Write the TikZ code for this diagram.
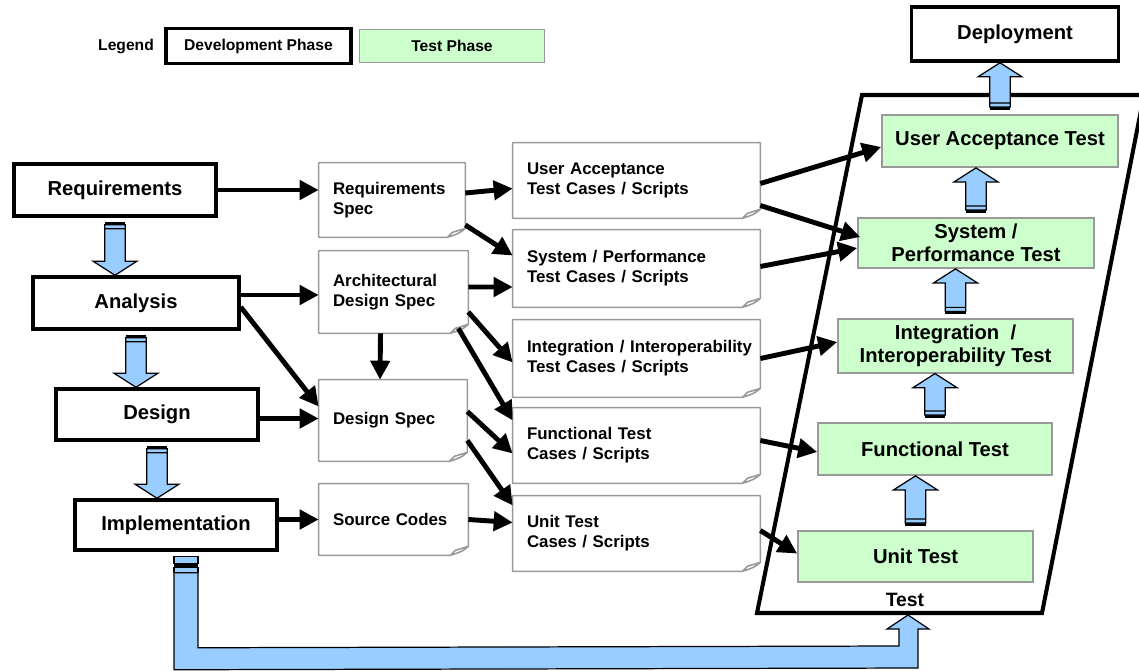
\documentclass[tikz,border=0pt]{standalone}
\usepackage{fontspec}
\setmainfont{Liberation Sans}
\usetikzlibrary{arrows.meta,calc}
\definecolor{testgreen}{HTML}{CCFFCC}
\definecolor{flowblue}{HTML}{99CCFF}
\definecolor{docgray}{HTML}{999999}

\newcommand{\stripearrow}[2]{%
  \fill let \p1=(#1), \p2=(#1 |- #2), \n1={sign(\y2-\y1)} in
    ({\x1-5.8pt},{\y1+\n1*2.3pt}) rectangle ({\x1+5.8pt},{\y1+\n1*4pt});
  \filldraw[fill=flowblue, line width=0.7pt] let \p1=(#1), \p2=(#1 |- #2), \n1={sign(\y2-\y1)} in
    ({\x1-5.8pt},{\y1+\n1*4pt}) rectangle ({\x1+5.8pt},{\y1+\n1*6.3pt})
    ({\x1-5.8pt},{\y1+\n1*6.3pt}) -- ({\x1-5.8pt},{\y2-\n1*8pt}) -- ({\x1-12.5pt},{\y2-\n1*8pt})
    -- (\x1,\y2) -- ({\x1+12.5pt},{\y2-\n1*8pt}) -- ({\x1+5.8pt},{\y2-\n1*8pt})
    -- ({\x1+5.8pt},{\y1+\n1*6.3pt}) -- cycle;}

\begin{document}
\begin{tikzpicture}[x=0.02cm, y=-0.02cm, every node/.style={font=\bfseries},
  devbox/.style={draw, line width=2pt, fill=white, minimum width=4.04cm, minimum height=1.04cm, font=\fontsize{11.5}{13.8}\selectfont\bfseries},
  testbox/.style={draw=docgray, line width=1pt, fill=testgreen, minimum width=4.7cm, minimum height=1.04cm, align=center, font=\fontsize{11.5}{13}\selectfont\bfseries},
  doc/.style={minimum height=1.5cm, inner xsep=0.28cm, align=left, font=\fontsize{9.6}{11.5}\selectfont\bfseries},
  narrowdoc/.style={doc, text width=2.4cm},
  widedoc/.style={doc, text width=4.38cm},
  conn/.style={line width=2.8pt, -{Triangle[length=0.38cm, width=0.38cm]}},
  frame/.style={line width=2.3pt, line join=miter}]
	\useasboundingbox (0,0) rectangle (1139,670);
	\node (leg) at (126,46) {\fontsize{8.9}{10}\selectfont Legend};
	\node[devbox, line width=2.2pt, minimum width=3.7cm, minimum height=0.7cm, font=\fontsize{8.9}{10}\selectfont\bfseries] (legdev) at (258.5,46) {Development Phase};
	\node[testbox, minimum width=3.7cm, minimum height=0.66cm, font=\fontsize{8.9}{10}\selectfont\bfseries] (legtest) at (452,46) {Test Phase};
	\draw[frame] (862,95) -- (1144,95) -- (1042,613) -- (757,613) -- cycle;
	\node[devbox] (req) at (115,190) {Requirements};
	\node[devbox, minimum width=4.12cm] (ana) at (136,303) {Analysis};
	\node[devbox, minimum height=1.02cm] (des) at (157,414.5) {Design};
	\node[devbox, minimum height=1cm] (imp) at (176,525) {Implementation};
	\node[devbox, minimum width=4.14cm, minimum height=1.08cm] (dep) at (1015,34) {Deployment};
	\node[narrowdoc, text width=2.36cm, minimum height=1.48cm] (rs) at (392,200) {Requirements\\Spec};
	\node[narrowdoc, text width=2.42cm, minimum height=1.64cm] (ads) at (393.5,292) {Architectural\\Design Spec};
	\node[narrowdoc, minimum height=1.62cm] (dsp) at (393,420.5) {Design Spec\\[8pt]};
	\node[narrowdoc, text width=2.42cm, minimum height=1.42cm] (scd) at (393.5,519.5) {Source Codes\\[4pt]};
	\node[widedoc] (uatc) at (636.5,180.5) {User Acceptance\\Test Cases / Scripts};
	\node[widedoc, minimum height=1.54cm] (sysc) at (636.5,268.5) {System / Performance\\Test Cases / Scripts};
	\node[widedoc, minimum height=1.54cm] (intc) at (636.5,358.5) {\mbox{Integration / Interoperability}\\Test Cases / Scripts};
	\node[widedoc] (func) at (636.5,445.5) {Functional Test\\Cases / Scripts};
	\node[widedoc] (unitc) at (636.5,533.5) {Unit Test\\Cases / Scripts};
	\foreach \d in {rs,ads,dsp,scd,uatc,sysc,intc,func,unitc} {
		\draw[docgray, line width=0.9pt, line join=round] (\d.north west) -- (\d.north east) -- ($(\d.south east)+(0,-9)$)
			.. controls ($(\d.south east)+(-6,-4)$) .. ($(\d.south east)+(-18,0)$) -- (\d.south west) -- cycle
			($(\d.south east)+(0,-9)$) -- ($(\d.south east)+(-13,-5)$) -- ($(\d.south east)+(-18,0)$);
	}
	\node[testbox, minimum width=4.72cm] (uatt) at (1000,141) {User Acceptance Test};
	\node[testbox, minimum width=4.72cm, minimum height=1cm] (syst) at (976,243) {System /\\Performance Test};
	\node[testbox] (intt) at (955.5,346) {Integration~~/\\Interoperability Test};
	\node[testbox, minimum width=4.68cm] (funt) at (935,449) {Functional Test};
	\node[testbox, minimum height=1.02cm] (unitt) at (915.5,556.5) {Unit Test};
	\node[font=\fontsize{11}{13}\selectfont\bfseries] (testlbl) at (905,600) {Test};
	\coordinate (testin) at (908,615);
	\coordinate (loopL) at ($(imp.south)+(10,0)$);
	\stripearrow{req.south}{ana.north}
	\stripearrow{ana.south}{des.north}
	\stripearrow{des.south}{imp.north}
	\stripearrow{unitt.north}{funt.south}
	\stripearrow{funt.north}{intt.south}
	\stripearrow{intt.north}{syst.south}
	\stripearrow{syst.north}{uatt.south}
	\stripearrow{uatt.north}{dep.south}
	\filldraw[fill=flowblue, line width=0.7pt] ($(loopL)+(-12,5)$) rectangle ($(loopL)+(12,12)$) ($(loopL)+(-12,16)$) rectangle ($(loopL)+(12,21)$);
	\fill ($(loopL)+(-12,12)$) rectangle ($(loopL)+(12,16)$);
	\filldraw[fill=flowblue, line width=0.7pt] ($(loopL)+(-12,21)$) -- ($(loopL)+(-12,118)$) -- ($(testin)+(10,53)$) -- ($(testin)+(10,14)$)
		-- ($(testin)+(21,14)$) -- (testin) -- ($(testin)+(-21,14)$) -- ($(testin)+(-9,14)$) -- ($(testin)+(-9,31)$)
		-- ($(loopL)+(12,96)$) -- ($(loopL)+(12,21)$) -- cycle;
	\draw[conn] (req.east) -- (rs.west |- req.east);
	\draw[conn] ($(ana.east)+(0,-8)$) -- ($(ads.west)+(0,3)$);
	\draw[conn] ($(ana.east)+(0,4)$) -- ($(dsp.west)+(0,-14)$);
	\draw[conn] ($(des.east)+(0,4)$) -- ($(dsp.west)+(0,-2)$);
	\draw[conn] (imp.east |- scd.west) -- (scd.west);
	\draw[conn] ($(ads.south)+(-13,0)$) -- ($(dsp.north)+(-13,0)$);
	\draw[conn] ($(rs.east)+(0,-7)$) -- ($(uatc.west)+(0,8)$);
	\draw[conn] ($(rs.east)+(0,25)$) -- ($(sysc.west)+(0,-13)$);
	\draw[conn] ($(ads.east)+(0,-5)$) -- ($(sysc.west)+(0,18.5)$);
	\draw[conn] ($(ads.east)+(0,20)$) -- ($(intc.west)+(0,4)$);
	\draw[conn] ($(ads.south east)+(-10,-5)$) -- ($(func.west)+(0,-25)$);
	\draw[conn] ($(dsp.east)+(0,-9)$) -- ($(func.west)+(0,8)$);
	\draw[conn] ($(dsp.east)+(0,20)$) -- ($(unitc.west)+(0,-28)$);
	\draw[conn] (scd.east) -- ($(unitc.west)+(0,-11)$);
	\draw[conn] ($(uatc.east)+(0,3)$) -- ($(uatt.west)+(0,6)$);
	\draw[conn] ($(uatc.east)+(0,25)$) -- ($(syst.west)+(3,-6)$);
	\draw[conn] ($(sysc.east)+(0,-2)$) -- ($(syst.west)+(0,5)$);
	\draw[conn] (intc.east) -- ($(intt.west)+(0,-4)$);
	\draw[conn] ($(func.east)+(0,-5)$) -- ($(funt.west)+(0,3)$);
	\draw[conn] ($(unitc.east)+(0,-3)$) -- ($(unitt.west)+(0,-3)$);
\end{tikzpicture}
\end{document}
